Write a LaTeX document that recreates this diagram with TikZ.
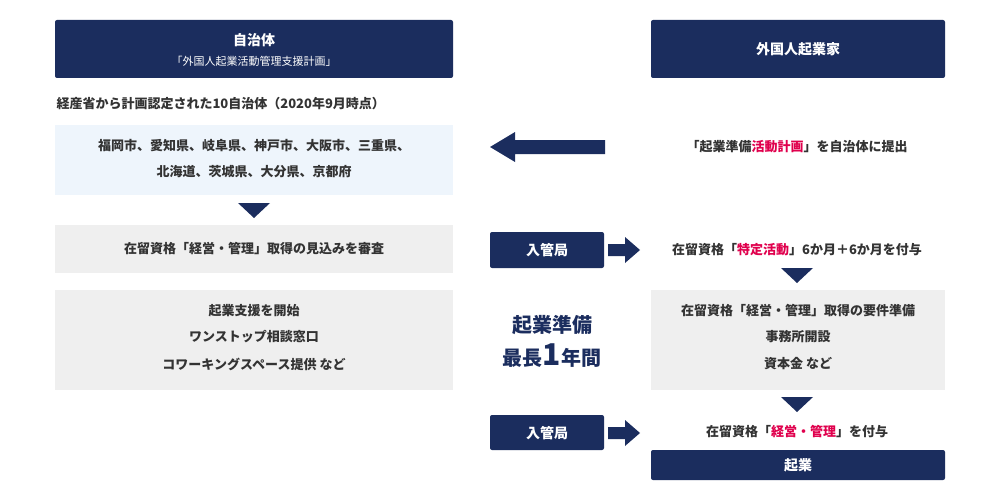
\documentclass[tikz,border=0pt]{standalone}
\usepackage{fontspec}
\setmainfont{Noto Sans CJK JP}
\begin{document}
\begin{tikzpicture}[x=1pt,y=-1pt,
  navy/.style={fill=nv,draw=none,rounded corners=2pt},
  gbox/.style={fill=gr,draw=none},
  txt/.style={font=\fontsize{13}{15}\selectfont\bfseries,text=tx},
  wtxt/.style={font=\fontsize{14}{16}\selectfont\bfseries,text=white}]
\definecolor{nv}{HTML}{1B2D5E}
\definecolor{gr}{HTML}{EFEFEF}
\definecolor{lb}{HTML}{EEF5FC}
\definecolor{tx}{HTML}{333333}
\definecolor{rd}{HTML}{E0004D}
\useasboundingbox (0,0) rectangle (1000,500);
\fill[white] (0,0) rectangle (1000,500);
% headers
\fill[navy] (55,20) rectangle (453,78);
\node[wtxt] (h1) at (254,40) {自治体};
\node[font=\fontsize{11}{13}\selectfont,text=white] (h1b) at (254,61) {「外国人起業活動管理支援計画」};
\fill[navy] (651,20) rectangle (945,78);
\node[wtxt] (h2) at (798,49) {外国人起業家};
\node[txt,anchor=west] (cap) at (53,104) {経産省から計画認定された10自治体（2020年9月時点）};
% blue box
\fill[lb] (55,125) rectangle (453,195);
\node[txt] (c1) at (254,146) {福岡市、愛知県、岐阜県、神戸市、大阪市、三重県、};
\node[txt] (c2) at (254,172) {北海道、茨城県、大分県、京都府};
% big arrow
\fill[nv] (605,140) -- (515,140) -- (515,132) -- (490,147) -- (515,162) -- (515,154) -- (605,154) -- cycle;
\node[txt] (r1) at (797,147) {「起業準備\textcolor{rd}{活動計画}」を自治体に提出};
% triangles
\fill[nv] (238,203) -- (270,203) -- (254,218) -- cycle;
\fill[nv] (781,268) -- (813,268) -- (797,283) -- cycle;
\fill[nv] (781,397) -- (813,397) -- (797,412) -- cycle;
% gray boxes left
\fill[gbox] (55,225) rectangle (453,273);
\node[txt] (l2) at (254,249) {在留資格「経営・管理」取得の見込みを審査};
\fill[gbox] (55,290) rectangle (453,390);
\node[txt] (l3a) at (254,311) {起業支援を開始};
\node[txt] (l3b) at (254,337) {ワンストップ相談窓口};
\node[txt] (l3c) at (254,364) {コワーキングスペース提供 など};
% immigration 1
\fill[navy] (490,232) rectangle (604,268);
\node[wtxt] (im1) at (547,250) {入管局};
\fill[nv] (608,244) -- (625,244) -- (625,237) -- (640,250) -- (625,263) -- (625,256) -- (608,256) -- cycle;
\node[txt] (r2) at (797,250) {在留資格「\textcolor{rd}{特定活動}」6か月＋6か月を付与};
\fill[gbox] (651,290) rectangle (945,390);
\node[txt] (r3a) at (798,311) {在留資格「経営・管理」取得の要件準備};
\node[txt] (r3b) at (798,337) {事務所開設};
\node[txt] (r3c) at (798,364) {資本金 など};
% middle
\node[font=\fontsize{20}{24}\selectfont\bfseries,text=nv] (m1) at (552,325) {起業準備};
\node[font=\fontsize{20}{24}\selectfont\bfseries,text=nv] (m2) at (552,356) {最長{\fontsize{30}{30}\selectfont 1}年間};
% immigration 2
\fill[navy] (490,415) rectangle (604,450);
\node[wtxt] (im2) at (547,433) {入管局};
\fill[nv] (608,427) -- (625,427) -- (625,420) -- (640,433) -- (625,446) -- (625,439) -- (608,439) -- cycle;
\node[txt] (r4) at (797,432) {在留資格「\textcolor{rd}{経営・管理}」を付与};
\fill[navy] (651,450) rectangle (945,480);
\node[wtxt] (kg) at (798,465) {起業};
\end{tikzpicture}
\end{document}
